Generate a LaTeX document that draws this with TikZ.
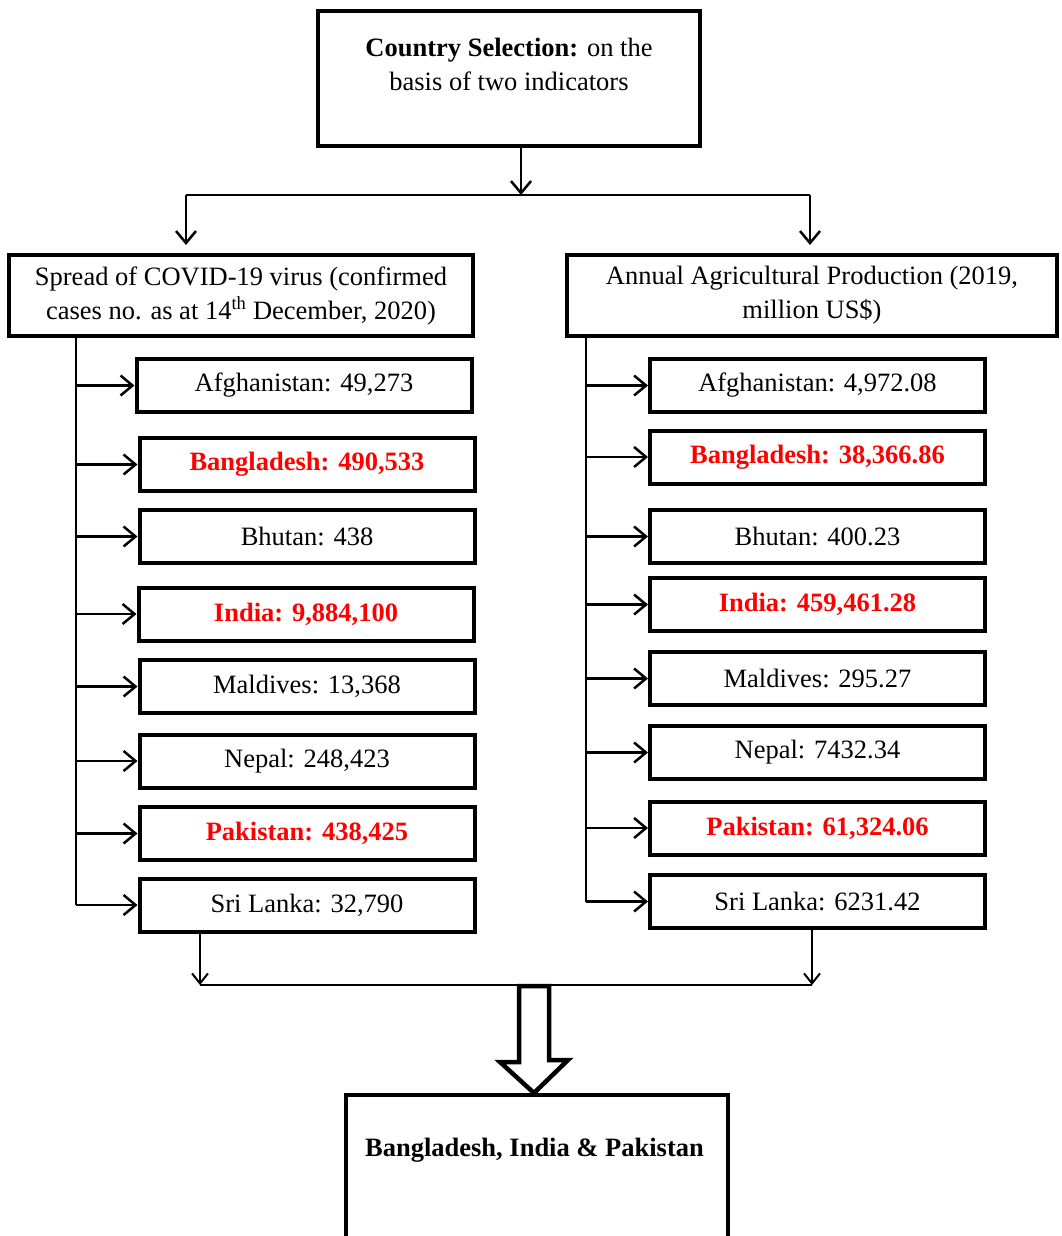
\documentclass[tikz,border=0pt]{standalone}
\usepackage{fontspec}
\setmainfont{Liberation Serif}
\usetikzlibrary{arrows.meta}
\begin{document}
\begin{tikzpicture}[x=1pt,y=-1pt,
  box/.style={draw, line width=4pt, inner sep=0pt},
  txt/.style={font=\fontsize{26.5}{34}\selectfont, align=center, inner sep=0pt},
  lbox/.style={box, txt, minimum width=335pt, minimum height=53pt},
  hl/.style={text=red, font=\fontsize{26.5}{34}\selectfont\bfseries},
  ln/.style={line width=2.5pt},
  arr/.style={line width=2.5pt, -{Straight Barb[length=12pt,width=20pt,line width=2.5pt]}},
  thin/.style={line width=2pt},
  tarr/.style={line width=2pt, -{Straight Barb[length=10pt,width=16pt,line width=2pt]}},
]
\useasboundingbox (0,0) rectangle (1061,1236);

% top box
\node[box, minimum width=382pt, minimum height=135pt] (top) at (509,78.5) {};
\node[txt] (toptxt) at (509,64) {\textbf{Country Selection:} on the\\basis of two indicators};

% headers
\node[box, txt, minimum width=464pt, minimum height=81pt] (lh) at (241,295.5)
  {Spread of COVID-19 virus (confirmed\\cases no. as at 14\textsuperscript{th} December, 2020)};
\node[box, txt, minimum width=490pt, minimum height=81pt] (rh) at (812,295.5)
  {Annual Agricultural Production (2019,\\million US\$)};

% junction under top box
\coordinate (jc) at (521,195);
\coordinate (jl) at (186,195);
\coordinate (jr) at (810,195);
\draw[arr] (top.south -| jc) -- (jc);
\draw[ln] (jl) -- (jr);
\draw[arr, shorten >=8pt] (jl) -- (jl |- lh.north);
\draw[arr, shorten >=8pt] (jr) -- (jr |- rh.north);

% left column boxes
\node[lbox] (l1) at (304,385.5) {Afghanistan: 49,273};
\node[lbox, hl] (l2) at (307,464.5) {Bangladesh: 490,533};
\node[lbox] (l3) at (307,536.5) {Bhutan: 438};
\node[lbox, hl] (l4) at (306,614) {India: 9,884,100};
\node[lbox] (l5) at (307,686.5) {Maldives: 13,368};
\node[lbox] (l6) at (307,761) {Nepal: 248,423};
\node[lbox, hl] (l7) at (307,833.5) {Pakistan: 438,425};
\node[lbox] (l8) at (307,905) {Sri Lanka: 32,790};

% right column boxes
\node[lbox] (r1) at (817.5,385.5) {Afghanistan: 4,972.08};
\node[lbox, hl] (r2) at (817.5,457) {Bangladesh: 38,366.86};
\node[lbox] (r3) at (817.5,536.5) {Bhutan: 400.23};
\node[lbox, hl] (r4) at (817.5,604.5) {India: 459,461.28};
\node[lbox] (r5) at (817.5,678.5) {Maldives: 295.27};
\node[lbox] (r6) at (817.5,752.5) {Nepal: 7432.34};
\node[lbox, hl] (r7) at (817.5,828) {Pakistan: 61,324.06};
\node[lbox] (r8) at (817.5,901.5) {Sri Lanka: 6231.42};

% left spine
\coordinate (lx) at (76,0);
\draw[ln] (lx |- lh.south) -- (lx |- l8.west);
\foreach \n in {1,...,8} { \draw[arr] (lx |- l\n.west) -- (l\n.west); }

% right spine
\coordinate (rx) at (586,0);
\draw[ln] (rx |- rh.south) -- (rx |- r8.west);
\foreach \n in {1,...,8} { \draw[arr] (rx |- r\n.west) -- (r\n.west); }

% bottom merge
\coordinate (bl) at (200,985);
\coordinate (br) at (812,985);
\draw[tarr] (bl |- l8.south) -- (bl);
\draw[tarr] (br |- r8.south) -- (br);
\draw[thin] (bl) -- (br);

% result box (bottom edge runs off the page)
\node[box, minimum width=382pt, minimum height=145pt] (res) at (537,1167.5) {};
\node[txt, font=\fontsize{26.5}{34}\selectfont\bfseries] (restxt) at (534.5,1150) {Bangladesh, India \& Pakistan};

% big hollow arrow
\coordinate (ba) at (534,986);
\draw[line width=4.5pt, line join=miter] ([xshift=-15pt]ba) -- ++(0,76) -- ++(-19,0) -- (ba |- res.north) -- ++(34,-33) -- ++(-19,0) -- ([xshift=15pt]ba) -- cycle;
\end{tikzpicture}
\end{document}
